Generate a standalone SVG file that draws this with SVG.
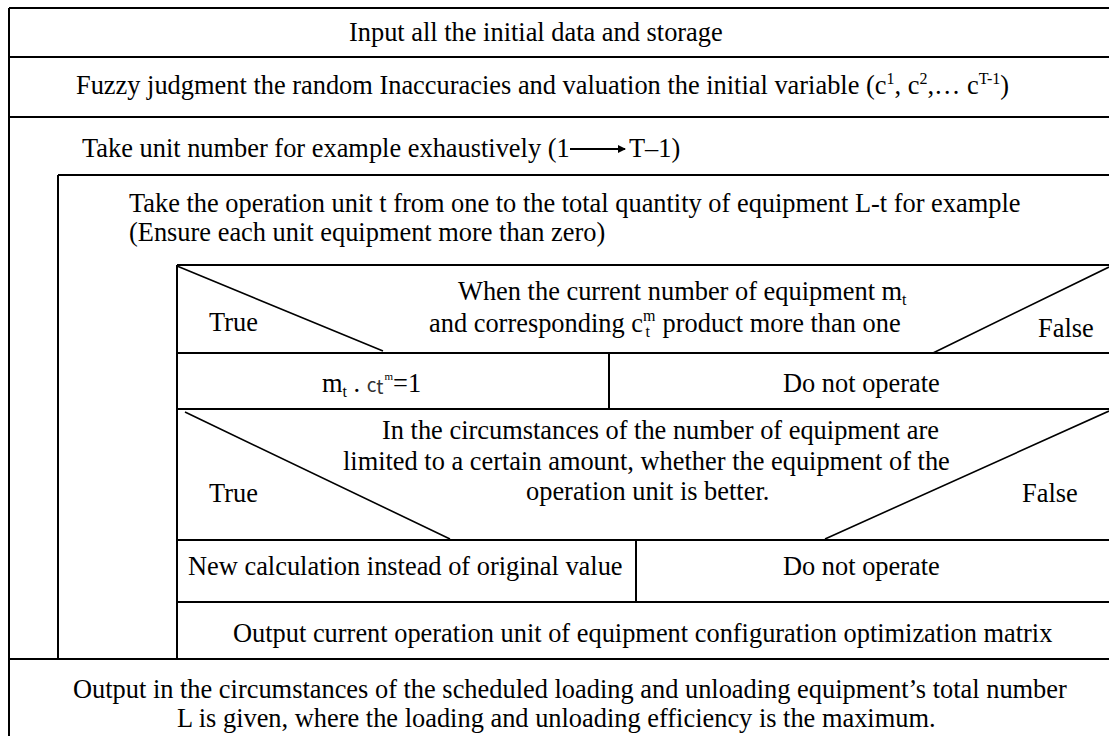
<svg xmlns="http://www.w3.org/2000/svg" width="1109" height="736" viewBox="0 0 1109 736">
<style>
.t{font-family:"Liberation Serif","Times New Roman",serif;font-size:26.4px;fill:#000}
.sup{font-size:16px}
.ln{stroke:#000;stroke-width:2;fill:none}
.dg{stroke:#000;stroke-width:1.6;fill:none}
.cjk{font-family:"Noto Sans CJK SC","Liberation Sans",sans-serif;font-size:19px;fill:#333}
</style>
<defs>
<marker id="ah" markerWidth="8" markerHeight="8" refX="7" refY="4" orient="auto" markerUnits="userSpaceOnUse">
<path d="M0,0 L8,4 L0,8 z" fill="#000"/>
</marker>
</defs>
<rect width="1109" height="736" fill="#fff"/>
<g id="frame">
<path class="ln" d="M9,8 H1109 M9,8 V736 M9,57 H1109 M9,117 H1109 M58,175 H1109 M58,175 V659 M177,265 H1109 M177,265 V659 M177,353 H1109 M609,353 V409 M177,409 H1109 M177,540 H1109 M636,540 V602 M177,602 H1109 M9,659 H1109"/>
<path class="dg" d="M177,266 L383,351 M933,353 L1109,267 M185,412 L450,539 M825,539 L1109,411"/>
</g>
<g id="n1"><text class="t" x="349" y="41">Input all the initial data and storage</text></g>
<g id="n2"><text class="t" x="76" y="94">Fuzzy judgment the random Inaccuracies and valuation the initial variable (c<tspan class="sup" dy="-10">1</tspan><tspan dy="10">, c</tspan><tspan class="sup" dy="-10">2</tspan><tspan dy="10">,… c</tspan><tspan class="sup" dy="-10">T-1</tspan><tspan dy="10">)</tspan></text></g>
<g id="n3"><text class="t" x="82" y="157">Take unit number for example exhaustively (1</text>
<line class="ln" x1="570" y1="149" x2="625" y2="149" marker-end="url(#ah)"/>
<text class="t" x="629" y="157">T–1)</text></g>
<g id="n4"><text class="t" x="129" y="212">Take the operation unit t from one to the total quantity of equipment L-t for example</text>
<text class="t" x="129" y="241">(Ensure each unit equipment more than zero)</text></g>
<g id="d1">
<text class="t" x="458" y="300">When the current number of equipment m<tspan class="sup" dy="5">t</tspan></text>
<text class="t" x="429" y="332">and corresponding c<tspan class="sup" dy="-11">m</tspan><tspan class="sup" dx="-10" dy="16">t</tspan><tspan dx="6" dy="-5"> product more than one</tspan></text>
<text class="t" x="209" y="331">True</text>
<text class="t" x="1038" y="337">False</text>
</g>
<g id="c1"><text class="t" x="322" y="392">m<tspan class="sup" dy="5">t</tspan><tspan dy="-5"> . </tspan><tspan class="cjk">c</tspan><tspan class="cjk" font-size="12" dy="2">t</tspan><tspan font-size="11" dx="1" dy="-14">m</tspan><tspan dy="12">=1</tspan></text></g>
<g id="c2"><text class="t" x="783" y="392">Do not operate</text></g>
<g id="d2">
<text class="t" x="382" y="439">In the circumstances of the number of equipment are</text>
<text class="t" x="343" y="470">limited to a certain amount, whether the equipment of the</text>
<text class="t" x="526" y="500">operation unit is better.</text>
<text class="t" x="209" y="502">True</text>
<text class="t" x="1022" y="502">False</text>
</g>
<g id="c3"><text class="t" x="188" y="575">New calculation instead of original value</text></g>
<g id="c4"><text class="t" x="783" y="575">Do not operate</text></g>
<g id="n5"><text class="t" x="233" y="642">Output current operation unit of equipment configuration optimization matrix</text></g>
<g id="n6"><text class="t" x="73" y="698">Output in the circumstances of the scheduled loading and unloading equipment’s total number</text>
<text class="t" x="177" y="727">L is given, where the loading and unloading efficiency is the maximum.</text></g>
</svg>
